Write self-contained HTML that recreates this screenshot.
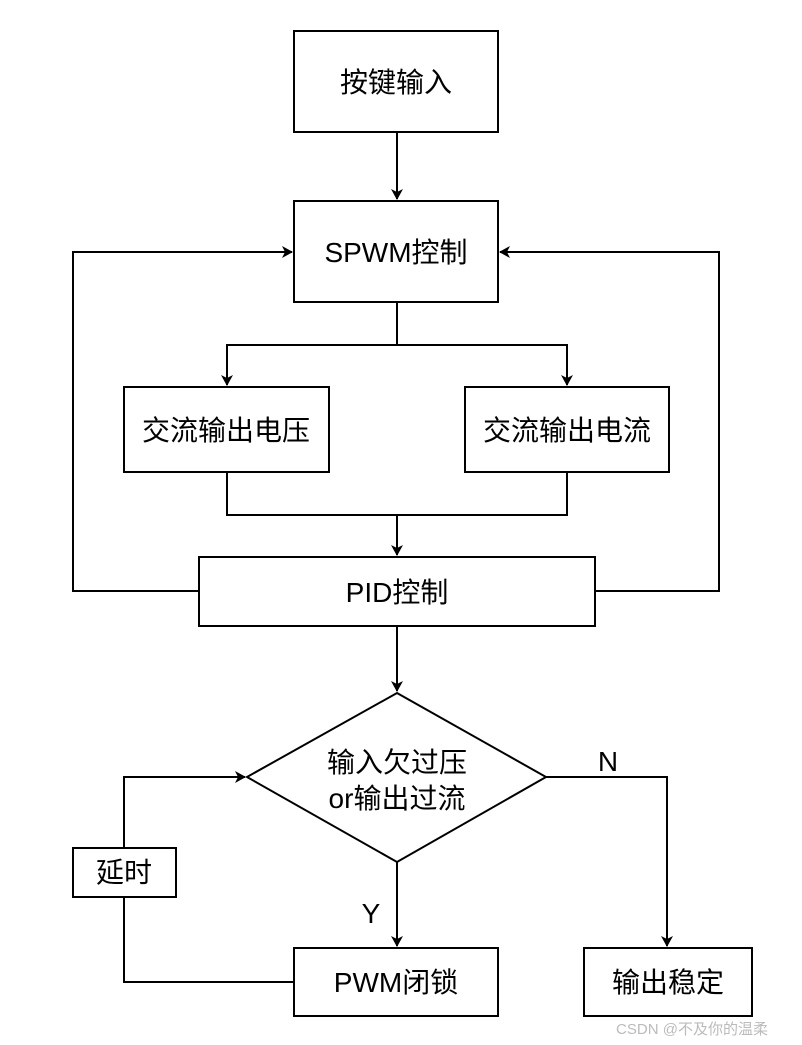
<!DOCTYPE html>
<html><head><meta charset="utf-8"><style>
html,body{margin:0;padding:0;background:#fff;}
svg{display:block;}
text{font-family:"Liberation Sans","Noto Sans CJK SC",sans-serif;fill:#000;}
</style></head><body>
<svg width="802" height="1045" viewBox="0 0 802 1045" xmlns="http://www.w3.org/2000/svg">
<defs>
<marker id="a" markerWidth="12" markerHeight="12" refX="10" refY="6" orient="auto" markerUnits="userSpaceOnUse">
<path d="M0,0 L11,6 L0,12 L3,6 Z" fill="#000"/>
</marker>
</defs>
<g fill="none" stroke="#000" stroke-width="2">
<rect x="294" y="31" width="204" height="101"/>
<rect x="294" y="201" width="204" height="101"/>
<rect x="124" y="387" width="205" height="85"/>
<rect x="465" y="387" width="204" height="85"/>
<rect x="199" y="557" width="396" height="69"/>
<polygon points="397,693 546,777 397,862 247,777"/>
<rect x="73" y="848" width="103" height="49"/>
<rect x="294" y="948" width="204" height="68"/>
<rect x="584" y="948" width="168" height="68"/>
<line x1="397" y1="132" x2="397" y2="199" marker-end="url(#a)"/>
<polyline points="397,302 397,345 227,345 227,385" marker-end="url(#a)"/>
<polyline points="397,345 567,345 567,385" marker-end="url(#a)"/>
<polyline points="227,472 227,515 567,515 567,472"/>
<line x1="397" y1="515" x2="397" y2="555" marker-end="url(#a)"/>
<polyline points="199,591 73,591 73,252 292,252" marker-end="url(#a)"/>
<polyline points="595,591 719,591 719,252 500,252" marker-end="url(#a)"/>
<line x1="397" y1="626" x2="397" y2="691" marker-end="url(#a)"/>
<polyline points="546,777 667,777 667,946" marker-end="url(#a)"/>
<line x1="397" y1="862" x2="397" y2="946" marker-end="url(#a)"/>
<polyline points="294,982 124,982 124,897"/>
<polyline points="124,848 124,777 245,777" marker-end="url(#a)"/>
</g>
<g font-size="28" text-anchor="middle">
<text x="396" y="92">按键输入</text>
<text x="396" y="262">SPWM控制</text>
<text x="226" y="440">交流输出电压</text>
<text x="567" y="440">交流输出电流</text>
<text x="397" y="602">PID控制</text>
<text x="397" y="772">输入欠过压</text>
<text x="397" y="808">or输出过流</text>
<text x="124" y="882">延时</text>
<text x="396" y="992">PWM闭锁</text>
<text x="668" y="992">输出稳定</text>
<text x="608" y="771">N</text>
<text x="371" y="923">Y</text>
</g>
<text x="692" y="1034" font-size="15" text-anchor="middle" style="fill:#bbb">CSDN @不及你的温柔</text>
</svg>
</body></html>
